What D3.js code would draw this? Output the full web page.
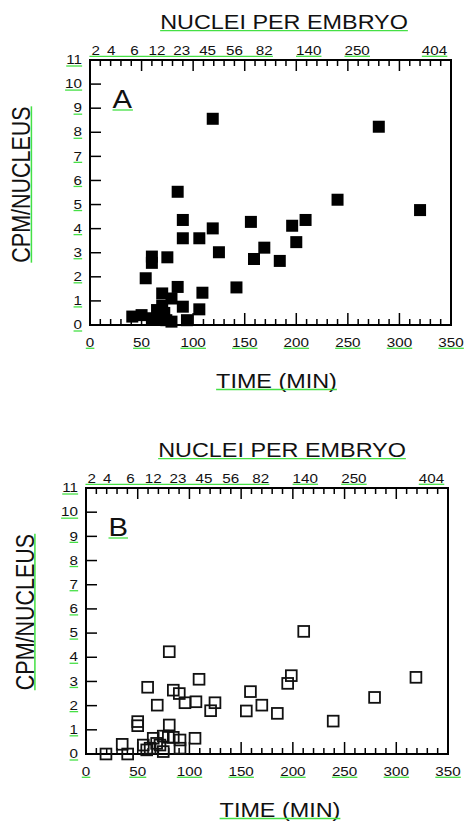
<!DOCTYPE html>
<html>
<head>
<meta charset="utf-8">
<script src="https://cdn.jsdelivr.net/npm/d3@7"></script>
<style>
  html, body { margin: 0; padding: 0; background: white; }
  svg { display: block; }
</style>
</head>
<body>
<svg id="chart"></svg>
<script>
// data
const timeA = [119, 280, 85, 240, 320, 156, 196, 209, 200, 169, 159, 184, 142,
  90, 119, 90, 106, 125, 60, 60, 75, 54, 85, 109, 70, 79, 90, 106,
  41, 50, 60, 65, 68, 74, 79, 94, 70, 72];
const cpmA = [8.56, 8.23, 5.53, 5.2, 4.77, 4.28, 4.12, 4.36, 3.44, 3.21, 2.74, 2.66, 1.56,
  4.36, 4.01, 3.6, 3.6, 3.02, 2.84, 2.58, 2.81, 1.94, 1.58, 1.34, 1.31, 1.1, 0.76, 0.65,
  0.35, 0.41, 0.28, 0.62, 0.28, 0.2, 0.14, 0.2, 0.8, 0.5];

const timeB = [210.5, 198.5, 195, 159, 170, 155, 185, 239, 279, 319,
  80.5, 59.6, 84.4, 90.2, 109.3, 68.9, 95.7, 106.3, 124.7, 120.5,
  50, 50, 80.5, 35, 19.3, 40.3, 55.4, 58.7, 65, 68.3, 71.5, 74.7, 74.7,
  79.6, 84.4, 90.9, 90.9, 105.4, 62];
const cpmB = [5.07, 3.24, 2.92, 2.58, 2.02, 1.78, 1.68, 1.36, 2.34, 3.17,
  4.23, 2.76, 2.64, 2.5, 3.09, 2.02, 2.12, 2.16, 2.12, 1.79,
  1.34, 1.17, 1.2, 0.4, 0, 0, 0.37, 0.17, 0.65, 0.44, 0.37, 0.74, 0.1,
  0.69, 0.69, 0.58, 0.24, 0.65, 0.24];

// top axis: nuclei counts and the time they sit over
const nucleiLabels = ["2", "4", "6", "12", "23", "45", "56", "82", "140", "250", "404"];
const nucleiTimes = [5.5, 20.5, 43, 65, 89, 114, 140, 169, 212, 259, 334];

const yTicks = [0, 1, 2, 3, 4, 5, 6, 7, 8, 9, 10, 11];
const xLabelTicks = [0, 50, 100, 150, 200, 250, 300, 350];

const W = 464, H = 822;
const STRETCH = 1.17;       // picture is stretched a bit sideways
const GREEN = "#45e045";
const FONT = "'Liberation Sans', Arial, sans-serif";

const svg = d3.select("#chart").attr("width", W).attr("height", H);

// text with green underline, drawn in its own scaled frame
function label(x, y, str, size, anchor, rot) {
  const g = svg.append("g")
    .attr("transform", `translate(${x},${y}) scale(${STRETCH},1)` + (rot ? ` rotate(${rot})` : ""));
  const t = g.append("text")
    .attr("x", 0).attr("y", 0)
    .attr("text-anchor", anchor || "start")
    .attr("font-family", FONT)
    .attr("font-size", size)
    .attr("fill", "#111")
    .text(str);
  return { g, t };
}

function underline(item, off) {
  const b = item.t.node().getBBox();
  item.g.append("line")
    .attr("x1", b.x).attr("x2", b.x + b.width)
    .attr("y1", off).attr("y2", off)
    .attr("stroke", GREEN).attr("stroke-width", 1.3);
}

function panel(cfg) {
  const x = d3.scaleLinear().domain([0, 350]).range([cfg.left, cfg.right]);
  const y = d3.scaleLinear().domain([0, 11]).range([cfg.bottom, cfg.top]);
  const g = svg.append("g");

  // frame
  g.append("rect")
    .attr("x", cfg.left).attr("y", cfg.top)
    .attr("width", cfg.right - cfg.left).attr("height", cfg.bottom - cfg.top)
    .attr("fill", "none").attr("stroke", "black").attr("stroke-width", 2);

  // bottom + top ticks (every 10 min, big every 50)
  const minor = x.ticks(35);
  g.selectAll(".bt").data(minor).enter().append("line")
    .attr("x1", d => x(d)).attr("x2", d => x(d))
    .attr("y1", cfg.bottom).attr("y2", d => cfg.bottom - (d % 50 === 0 ? 12 : 6))
    .attr("stroke", "black").attr("stroke-width", 1.5);
  g.selectAll(".tt").data(minor).enter().append("line")
    .attr("x1", d => x(d)).attr("x2", d => x(d))
    .attr("y1", cfg.top).attr("y2", d => cfg.top + (d % 50 === 0 ? 11 : 6))
    .attr("stroke", "black").attr("stroke-width", 1.5);

  // left ticks
  g.selectAll(".lt").data(yTicks).enter().append("line")
    .attr("x1", cfg.left).attr("x2", cfg.left + 11)
    .attr("y1", d => y(d)).attr("y2", d => y(d))
    .attr("stroke", "black").attr("stroke-width", 1.5);

  // points
  const pts = cfg.times.map((t, i) => ({ t, v: cfg.values[i] }));
  const s = cfg.filled ? 12 : 10.8;
  g.selectAll(".pt").data(pts).enter().append("rect")
    .attr("x", d => x(d.t) - s / 2)
    .attr("y", d => y(d.v) - s / 2)
    .attr("width", s).attr("height", s)
    .attr("fill", cfg.filled ? "black" : "none")
    .attr("stroke", cfg.filled ? "none" : "#111")
    .attr("stroke-width", cfg.filled ? 0 : 1.8);

  // y tick labels
  yTicks.forEach(v => {
    const it = label(cfg.left - 8, y(v) + 4.2, String(v), 13, "end");
    underline(it, 1.8);
  });

  // x tick labels
  xLabelTicks.forEach(v => {
    const it = label(x(v), cfg.bottom + 21.5, String(v), 13, "middle");
    underline(it, 1.8);
  });

  // nuclei labels on top, first run shares one underline
  const items = nucleiLabels.map((n, i) =>
    label(x(nucleiTimes[i]), cfg.top - 5.5, n, 13, "middle"));
  const first = items[0].t.node().getBBox();
  const firstX0 = x(nucleiTimes[0]) + first.x * STRETCH;
  const last = items[7].t.node().getBBox();
  const lastX1 = x(nucleiTimes[7]) + (last.x + last.width) * STRETCH;
  svg.append("line")
    .attr("x1", firstX0 - 2).attr("x2", lastX1)
    .attr("y1", cfg.top - 3.7).attr("y2", cfg.top - 3.7)
    .attr("stroke", GREEN).attr("stroke-width", 1.3);
  items.slice(8).forEach(it => underline(it, 1.8));

  // titles
  underline(label(cfg.titleX, cfg.top - 31, "NUCLEI PER EMBRYO", 20, "middle"), 1.6);
  underline(label(cfg.timeX, cfg.bottom + 62.5, "TIME (MIN)", 20, "middle"), 2);
  underline(label(cfg.yLabelX, cfg.yLabelY, "CPM/NUCLEUS", 21.5, "middle", -90), 1.2);

  // panel letter
  underline(label(cfg.left + 22.5, cfg.top + 47.5, cfg.letter, 25, "start"), 2.5);
}

panel({
  left: 90, right: 451, top: 60, bottom: 325,
  titleX: 284, timeX: 276.5, yLabelX: 30, yLabelY: 184.5,
  letter: "A", filled: true, times: timeA, values: cpmA
});

panel({
  left: 86, right: 448, top: 488, bottom: 754,
  titleX: 282, timeX: 280, yLabelX: 33.5, yLabelY: 612,
  letter: "B", filled: false, times: timeB, values: cpmB
});
</script>
</body>
</html>
